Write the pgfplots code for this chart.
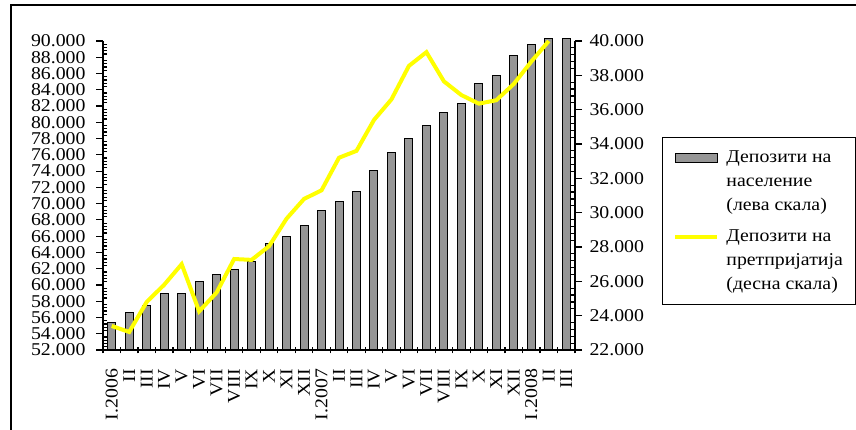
\documentclass[border=0pt]{standalone}
\usepackage{pgfplots}
\usepackage{pgfplotstable}
\pgfplotsset{compat=1.18}
\usepackage{fontspec}
\setmainfont{Liberation Serif}[FakeStretch=1.1]
\definecolor{barGray}{RGB}{150,150,150}
\definecolor{lineYellow}{RGB}{255,255,0}

% households (left scale), enterprises (right scale)
\pgfplotstableread{
x hh
0 55400
1 56600
2 57450
3 59000
4 59000
5 60400
6 61250
7 61900
8 62850
9 65050
10 65900
11 67300
12 69100
13 70300
14 71500
15 74100
16 76300
17 78000
18 79550
19 81150
20 82350
21 84800
22 85800
23 88200
24 89600
25 90300
26 90300
}\households

\pgfplotstableread{
x ent
0 23400
1 23050
2 24800
3 25800
4 27000
5 24250
6 25350
7 27300
8 27250
9 28050
10 29650
11 30800
12 31300
13 33200
14 33600
15 35400
16 36600
17 38550
18 39350
19 37650
20 36850
21 36350
22 36550
23 37500
24 38800
25 40000
}\enterprises

\pgfplotsset{
  common/.style={
    scale only axis,
    width=472bp, height=309bp,
    at={(103bp,80bp)}, anchor=south west,
    xmin=-0.5, xmax=26.5,
    axis line style={line width=1.6bp},
    tick style={line width=1.2bp, black},
    major tick length=7bp,
    minor tick length=-4bp,
    minor y tick num=4,
    scaled y ticks=false,
    /pgf/number format/1000 sep={.},
    /pgf/number format/fixed,
    /pgf/number format/assume math mode=true,
  },
  barleg/.style={legend image code/.code={\draw[##1] (0bp,19bp) rectangle (42bp,28bp);}},
  lineleg/.style={legend image code/.code={\draw[##1] (0bp,23.5bp) -- (42bp,23.5bp);}},
}

\begin{document}
\begin{tikzpicture}[font=\fontsize{18bp}{20bp}\selectfont]
\path[use as bounding box] (0,0) rectangle (856bp,430bp);
\draw[line width=1.5bp] (11bp,0) -- (11bp,425bp) -- (856bp,425bp);

\begin{axis}[common,
    axis y line*=left, axis x line*=bottom,
    ymin=52000, ymax=90000,
    ytick={52000,54000,...,90000},
    ytick align=outside,
    yticklabel style={xshift=-7bp},
    xtick={-0.5,0.5,...,26.5},
    x tick label as interval,
    xtick align=center,
    xticklabels={I.2006,II,III,IV,V,VI,VII,VIII,IX,X,XI,XII,I.2007,II,III,IV,V,VI,VII,VIII,IX,X,XI,XII,I.2008,II,III},
    xticklabel style={yshift=-12bp, rotate=90, anchor=east},
    clip=false,
  ]
  \addplot[ybar, bar width=8bp, fill=barGray, draw=black, line width=1bp] table[x=x, y=hh] {\households};
\end{axis}

\begin{axis}[common,
    axis x line=none, axis y line*=right,
    ymin=22000, ymax=40000,
    ytick={22000,24000,...,40000},
    ytick align=outside,
    yticklabel style={xshift=4bp},
    legend style={at={(1.184,0.689)}, anchor=north west, draw=black, line width=1.2bp,
      font=\fontsize{18bp}{24bp}\selectfont, nodes={align=left},
      inner xsep=11bp, inner ysep=11bp, row sep=14bp, column sep=5bp},
    legend cell align=left,
  ]
  \addlegendimage{barleg, fill=barGray, draw=black, line width=1bp}
  \addlegendentry{Депозити на\\население\\(лева скала)}
  \addplot[lineYellow, line width=4bp, lineleg] table[x=x, y=ent] {\enterprises};
  \addlegendentry{Депозити на\\претпријатија\\(десна скала)}
\end{axis}
\end{tikzpicture}
\end{document}
